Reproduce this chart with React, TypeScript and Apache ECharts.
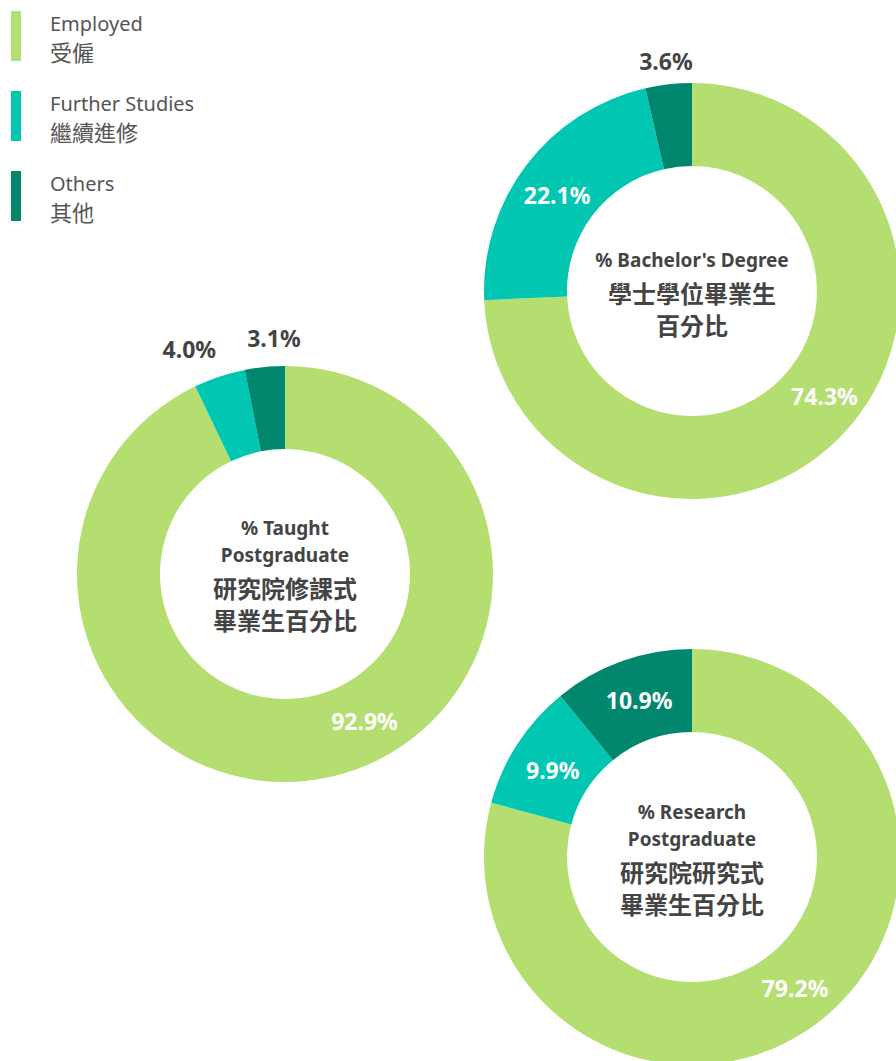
import React, { useEffect, useRef } from "react";
import * as echarts from "echarts";

const categoriesEn = ["Employed", "Further Studies", "Others"];
const categoriesZh = ["受僱", "繼續進修", "其他"];
const bachelorValues = [74.3, 22.1, 3.6];
const taughtValues = [92.9, 4.0, 3.1];
const researchValues = [79.2, 9.9, 10.9];
const bachelorTitle = ["% Bachelor's Degree", "學士學位畢業生", "百分比"];
const taughtTitle = ["% Taught", "Postgraduate", "研究院修課式", "畢業生百分比"];
const researchTitle = ["% Research", "Postgraduate", "研究院研究式", "畢業生百分比"];

const COLORS = ["#b5de70", "#00c6b2", "#00876e"];
const TEXT = "#444444";
const FONT = "'Noto Sans', 'Noto Sans CJK TC', sans-serif";
const isCJK = (s: string) => /[\u4e00-\u9fff]/.test(s);

export default function App() {
  const ref = useRef<HTMLDivElement>(null);
  useEffect(() => {
    if (!ref.current) return;
    const chart = echarts.init(ref.current, null, { renderer: "svg" });

    const makeSeries = (
      name: string,
      values: number[],
      center: number[],
      lineLen: number,
      nudges: Record<number, number[]>
    ) => ({
      type: "pie",
      name,
      center,
      radius: [125, 208],
      startAngle: 90,
      clockwise: true,
      avoidLabelOverlap: false,
      silent: true,
      labelLayout: (p: any) => {
        const n = nudges[p.dataIndex];
        const out = values[p.dataIndex] < 5;
        const res: any = {};
        if (out) res.align = "center";
        if (n) {
          res.dx = n[0];
          res.dy = n[1];
        }
        return res;
      },
      labelLine: { show: false, length: lineLen, length2: 0 },
      data: values.map((v, i) => {
        const out = v < 5;
        return {
          name: categoriesEn[i],
          value: v,
          itemStyle: { color: COLORS[i] },
          label: {
            show: true,
            position: out ? "outside" : "inside",
            distanceToLabelLine: 0,
            formatter: () => v.toFixed(1) + "%",
            color: out ? TEXT : "#ffffff",
            fontFamily: FONT,
            fontWeight: "bold",
            fontSize: 23,
          },
        };
      }),
    });

    const centerText = (lines: string[], cx: number, cy: number, offsets: number[]) => ({
      type: "group",
      x: cx,
      y: cy,
      children: lines.map((t, i) => ({
        type: "text",
        x: 0,
        y: offsets[i],
        style: {
          text: t,
          fill: TEXT,
          font: `bold ${isCJK(t) ? 24 : 19}px ${FONT}`,
          textAlign: "center",
          textVerticalAlign: "middle",
          align: "center",
          verticalAlign: "middle",
        },
      })),
    });

    const legendGraphics: any[] = [];
    categoriesEn.forEach((en, i) => {
      const top = 11 + i * 80;
      legendGraphics.push({
        type: "rect",
        shape: { x: 11, y: top, width: 10, height: 50 },
        style: { fill: COLORS[i] },
      });
      legendGraphics.push({
        type: "text",
        x: 50,
        y: top + 12,
        style: {
          text: en,
          fill: "#555555",
          font: `20px ${FONT}`,
          textAlign: "left",
          textVerticalAlign: "middle",
          align: "left",
          verticalAlign: "middle",
        },
      });
      legendGraphics.push({
        type: "text",
        x: 50,
        y: top + 41,
        style: {
          text: categoriesZh[i],
          fill: "#555555",
          font: `22px ${FONT}`,
          textAlign: "left",
          textVerticalAlign: "middle",
          align: "left",
          verticalAlign: "middle",
        },
      });
    });

    chart.setOption({
      animation: false,
      series: [
        makeSeries("Bachelor", bachelorValues, [692, 291], 23, {
          0: [10, -12],
          1: [0, 7],
        }),
        makeSeries("Taught", taughtValues, [285, 574], 29, {
          0: [42, -18],
          1: [-21, 0],
          2: [12, 0],
        }),
        makeSeries("Research", researchValues, [692, 857], 23, {
          0: [0, -4],
          1: [3, 5],
          2: [4, 3],
        }),
      ],
      graphic: [
        ...legendGraphics,
        centerText(bachelorTitle, 692, 291, [-31, 2, 34]),
        centerText(taughtTitle, 285, 574, [-46, -19, 14, 46]),
        centerText(researchTitle, 692, 857, [-45, -18, 15, 47]),
      ],
    });
    return () => chart.dispose();
  }, []);
  return (
    <div
      ref={ref}
      style={{ position: "absolute", left: 0, top: 0, width: 896, height: 1061 }}
    />
  );
}
